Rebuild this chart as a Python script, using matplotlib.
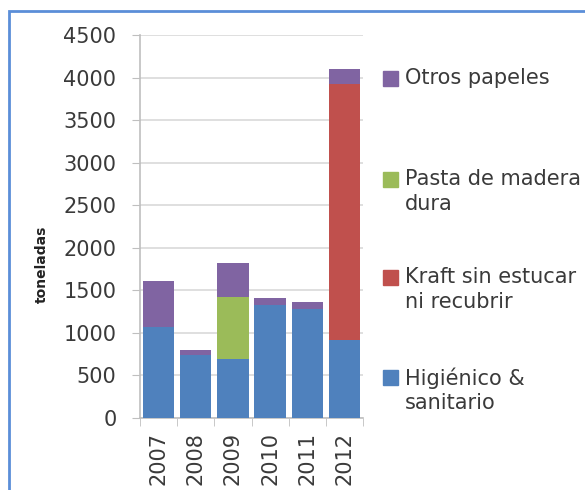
import numpy as np
import matplotlib.pyplot as plt
from matplotlib.patches import Rectangle

# data (toneladas)
years = ['2007', '2008', '2009', '2010', '2011', '2012']
higienico = [1066, 740, 693, 1324, 1284, 916]
kraft = [0, 0, 0, 0, 0, 3009]
pasta = [0, 0, 732, 0, 0, 0]
otros = [540, 55, 393, 82, 79, 172]

series = [
    ('Higiénico &\nsanitario', higienico, '#4f81bd'),
    ('Kraft sin estucar\nni recubrir', kraft, '#c0504d'),
    ('Pasta de madera\ndura', pasta, '#9bbb59'),
    ('Otros papeles', otros, '#8064a2'),
]

plt.rcParams['font.family'] = ['DejaVu Sans']

fig = plt.figure(figsize=(5.85, 4.9), dpi=100)
W, H = 585, 490
ax = fig.add_axes([140 / W, 1 - 418 / H, (363 - 140) / W, (418 - 35) / H])

x = np.arange(len(years))
bottom = np.zeros(len(years))
for label, vals, col in series:
    ax.bar(x, vals, bottom=bottom, width=0.84, color=col, label=label, zorder=3)
    bottom += np.array(vals)

ax.set_xlim(-0.5, len(years) - 0.5)
ax.set_ylim(0, 4500)
ax.set_yticks(range(0, 4501, 500))
ax.yaxis.grid(True, color='#d9d9d9', linewidth=1.2, zorder=0)
ax.tick_params(axis='y', length=6, color='#bfbfbf', labelsize=15, labelcolor='#3a3a3a', pad=11)

ax.set_xticks(x)
ax.set_xticklabels(years, rotation=90)
ax.set_xticks(np.arange(-0.5, len(years)), minor=True)
ax.tick_params(axis='x', which='major', length=0, labelsize=15, labelcolor='#3a3a3a', pad=10)
ax.tick_params(axis='x', which='minor', length=6, color='#bfbfbf')

for s in ['top', 'right']:
    ax.spines[s].set_visible(False)
for s in ['left', 'bottom']:
    ax.spines[s].set_color('#bfbfbf')
    ax.spines[s].set_linewidth(1.2)

fig.text(42 / W, 1 - 264 / H, 'toneladas', rotation=90, fontsize=10,
         fontweight='bold', ha='center', va='center', color='#222222')

# legend drawn by hand so the squares sit on the first text line
leg_y = [79, 180, 278, 378]
for (label, vals, col), yy in zip(series[::-1], leg_y):
    fig.patches.append(Rectangle((383 / W, 1 - (yy + 7) / H), 15 / W, 15 / H,
                                 transform=fig.transFigure, color=col))
    fig.text(405 / W, 1 - (yy - 11) / H, label, fontsize=15, va='top', ha='left',
             color='#3a3a3a', linespacing=1.3)

# blue frame around the chart
fig.patches.append(Rectangle((9 / W, -0.05), 1.2, 1 - 11 / H + 0.05,
                             transform=fig.transFigure, fill=False,
                             edgecolor='#5b8ed8', linewidth=2))

fig.savefig('out.png', dpi=100)
